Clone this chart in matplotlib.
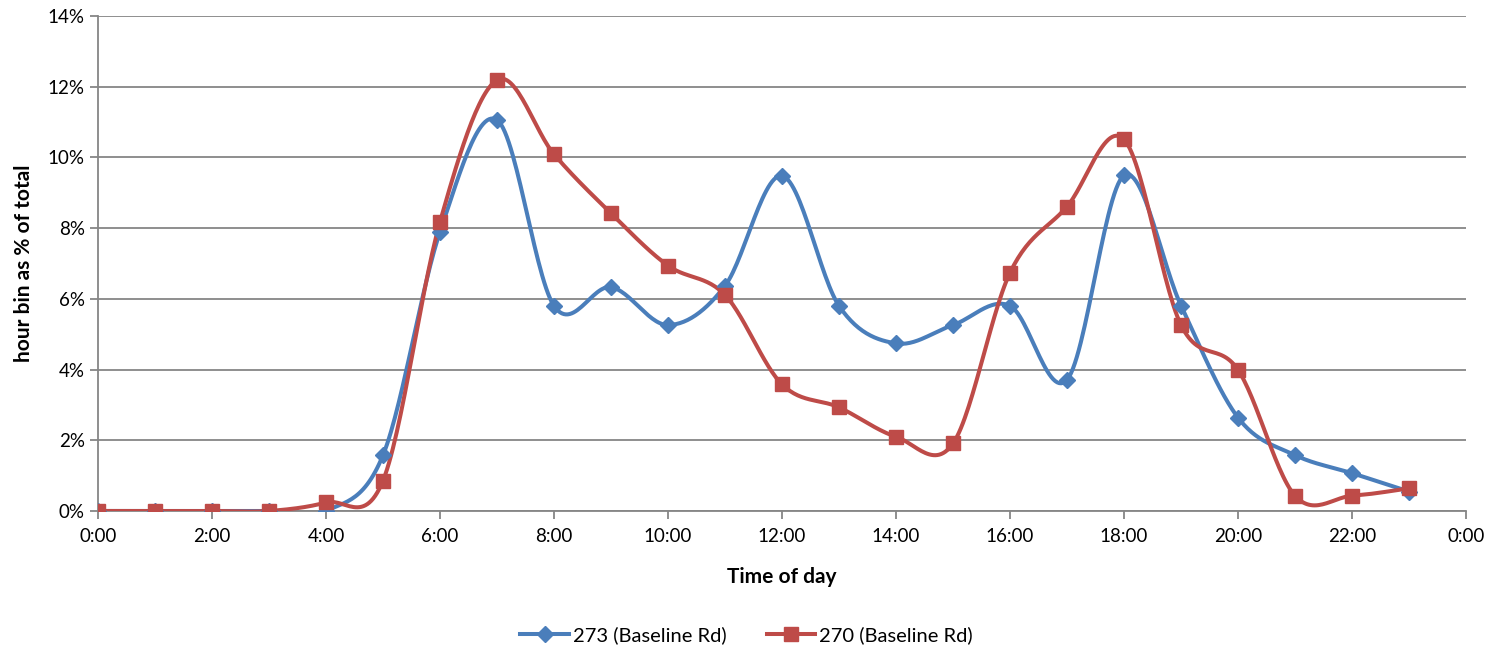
import numpy as np
import matplotlib
matplotlib.use("Agg")
import matplotlib.pyplot as plt

plt.rcParams['font.family'] = ['Lato', 'DejaVu Sans']

hours = list(range(24))
s273 = [0, 0, 0, 0, 0, 1.58, 7.9, 11.06, 5.8, 6.33, 5.26, 6.37, 9.48, 5.8,
        4.74, 5.26, 5.8, 3.71, 9.49, 5.81, 2.64, 1.58, 1.07, 0.55]
s270 = [0, 0, 0, 0, 0.24, 0.86, 8.18, 12.19, 10.09, 8.42, 6.94, 6.11, 3.58, 2.93,
        2.1, 1.91, 6.74, 8.61, 10.51, 5.26, 3.99, 0.43, 0.43, 0.64]
xtick_labels = ["0:00", "2:00", "4:00", "6:00", "8:00", "10:00", "12:00",
                "14:00", "16:00", "18:00", "20:00", "22:00", "0:00"]

BLUE = "#4A7EBB"
RED = "#BE4B48"
GRID = "#868686"


def smooth(x, y, n=30):
    # catmull-rom style bezier, like excel's smoothed line
    x = np.asarray(x, float)
    y = np.asarray(y, float)
    px = np.concatenate([[x[0]], x, [x[-1]]])
    py = np.concatenate([[y[0]], y, [y[-1]]])
    xs, ys = [], []
    t = np.linspace(0, 1, n)
    for i in range(1, len(px) - 2):
        p0 = np.array([px[i], py[i]])
        p3 = np.array([px[i + 1], py[i + 1]])
        p1 = p0 + (p3 - np.array([px[i - 1], py[i - 1]])) / 6
        p2 = p3 - (np.array([px[i + 2], py[i + 2]]) - p0) / 6
        b = ((1 - t) ** 3)[:, None] * p0 + (3 * (1 - t) ** 2 * t)[:, None] * p1 \
            + (3 * (1 - t) * t ** 2)[:, None] * p2 + (t ** 3)[:, None] * p3
        xs.extend(b[:, 0])
        ys.extend(b[:, 1])
    return xs, ys


fig = plt.figure(figsize=(14.99, 6.54), dpi=100)
ax = fig.add_axes([0.0654, 0.2187, 0.9126, 0.7568])

for data, color, marker, ms, label in [(s273, BLUE, "D", 8.5, "273 (Baseline Rd)"),
                                      (s270, RED, "s", 9.5, "270 (Baseline Rd)")]:
    xs, ys = smooth(hours, data)
    ax.plot(xs, ys, color=color, lw=2.9, zorder=3)
    ax.plot(hours, data, linestyle="none", marker=marker, ms=ms, color=color, zorder=4)
    ax.plot([], [], color=color, lw=2.9, marker=marker, ms=ms, label=label)

ax.set_xlim(0, 24)
ax.set_ylim(0, 14)
ax.set_xticks(range(0, 25, 2))
ax.set_xticklabels(xtick_labels)
ax.set_yticks(range(0, 15, 2))
ax.set_yticklabels([f"{v}%" for v in range(0, 15, 2)])
ax.yaxis.grid(True, color=GRID, lw=1.3)
ax.set_axisbelow(True)
for s in ["top", "right"]:
    ax.spines[s].set_visible(False)
for s in ["left", "bottom"]:
    ax.spines[s].set_color(GRID)
    ax.spines[s].set_linewidth(1.3)
ax.tick_params(axis="both", colors=GRID, labelcolor="black", labelsize=13.5, length=6, width=1.3)
ax.tick_params(axis="x", pad=6)

ax.set_xlabel("Time of day", fontsize=15, fontweight="bold", labelpad=16)
ax.set_ylabel("hour bin as % of total", fontsize=15, fontweight="bold", labelpad=10)

ax.legend(loc="center", bbox_to_anchor=(0.474, -0.25), ncol=2, frameon=False,
          fontsize=14.5, handlelength=2.4, columnspacing=2.0, handletextpad=0.2)

fig.savefig("out.png", dpi=100)
